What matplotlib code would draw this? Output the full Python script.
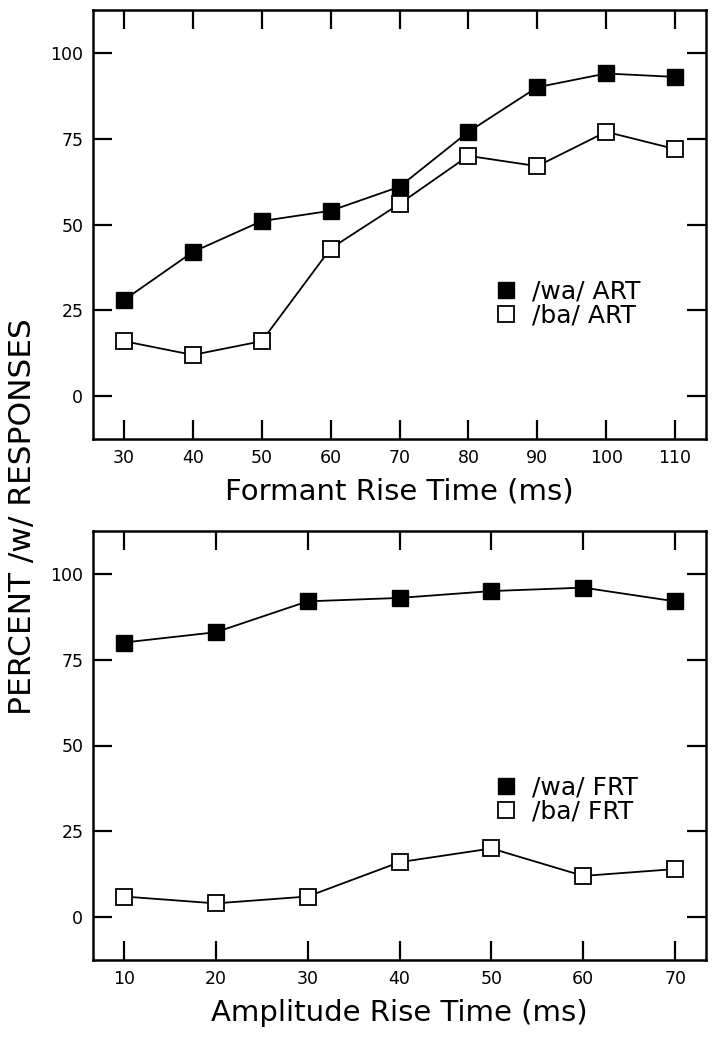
import matplotlib
matplotlib.use("Agg")
import matplotlib.pyplot as plt

# Top panel: formant rise time
frt_x = [30, 40, 50, 60, 70, 80, 90, 100, 110]
wa_art = [28, 42, 51, 54, 61, 77, 90, 94, 93]
ba_art = [16, 12, 16, 43, 56, 70, 67, 77, 72]

# Bottom panel: amplitude rise time
art_x = [10, 20, 30, 40, 50, 60, 70]
wa_frt = [80, 83, 92, 93, 95, 96, 92]
ba_frt = [6, 4, 6, 16, 20, 12, 14]

y_ticks = [0, 25, 50, 75, 100]

plt.rcParams["font.family"] = "DejaVu Sans"

fig = plt.figure(figsize=(7.16, 10.38), dpi=100)
W, H = 716, 1038
ax1 = fig.add_axes([93 / W, 1 - 439 / H, 613 / W, 429 / H])
ax2 = fig.add_axes([93 / W, 1 - 960 / H, 613 / W, 429 / H])


def style(ax, xticks, xlim, xlabel):
    ax.set_xlim(*xlim)
    ax.set_ylim(-12.5, 112.5)
    ax.set_xticks(xticks)
    ax.set_yticks(y_ticks)
    ax.tick_params(direction="in", length=14, width=1.6, top=True, right=True,
                   labelsize=12.5, pad=7)
    for s in ax.spines.values():
        s.set_linewidth(1.8)
    ax.set_xlabel(xlabel, fontsize=21, labelpad=8)


ax1.plot(frt_x, wa_art, color="black", lw=1.3, marker="s", ms=12,
         mfc="black", mec="black", label="/wa/ ART")
ax1.plot(frt_x, ba_art, color="black", lw=1.3, marker="s", ms=12,
         mfc="white", mec="black", mew=1.3, label="/ba/ ART")
style(ax1, frt_x, (25.5, 114.5), "Formant Rise Time (ms)")

ax2.plot(art_x, wa_frt, color="black", lw=1.3, marker="s", ms=12,
         mfc="black", mec="black", label="/wa/ FRT")
ax2.plot(art_x, ba_frt, color="black", lw=1.3, marker="s", ms=12,
         mfc="white", mec="black", mew=1.3, label="/ba/ FRT")
style(ax2, art_x, (6.65, 73.35), "Amplitude Rise Time (ms)")

for ax, loc in [(ax1, (0.657, 0.316)), (ax2, (0.657, 0.373))]:
    leg = ax.legend(loc="center left", bbox_to_anchor=loc, frameon=False,
                    fontsize=18, handlelength=0.8, handletextpad=0.65,
                    labelspacing=0.0, borderpad=0, borderaxespad=0)
    for h in leg.legend_handles:
        h.set_linestyle("none")

fig.text(22.5 / W, 1 - 517 / H, "PERCENT /w/ RESPONSES", rotation=90,
         fontsize=22.5, ha="center", va="center")

fig.savefig("out.png", dpi=100)
